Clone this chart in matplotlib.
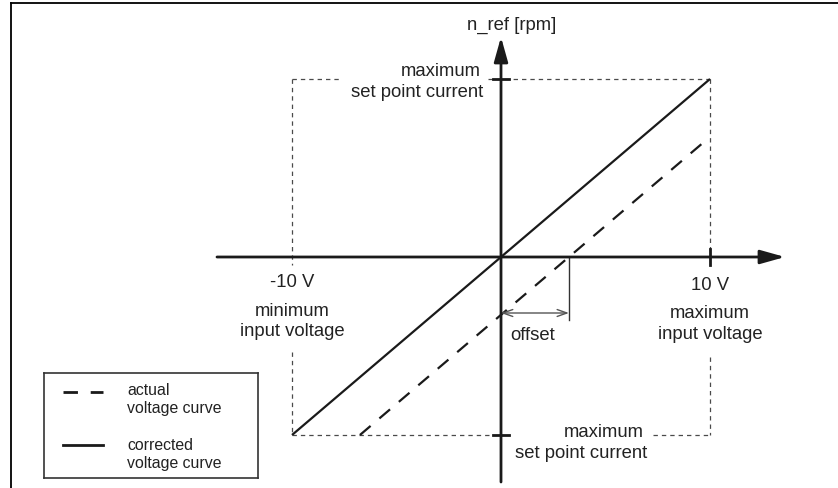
# offset correction sketch: set point n_ref vs. input voltage

import matplotlib
matplotlib.use('Agg')
from matplotlib import pyplot as plt
from matplotlib.lines import Line2D

plt.rcParams['font.family'] = ['Liberation Sans', 'DejaVu Sans']

# values (x in volts, y in units of max set point)
v_limits = [-10, 10]
n_limits = [-1, 1]
corrected_v = [-10, 10]
corrected_n = [-1, 1]
offset_v = 3.25
actual_v = [-6.75, 10]
actual_n = [-1, 0.675]
v_labels = ['-10 V', '10 V']
legend_labels = [['actual', 'voltage curve'], ['corrected', 'voltage curve']]

ink = '#1a1a1a'
txt = '#222222'
box = '#4a4a4a'

# pixel scale of the original drawing
px_v = 20.9     # px per volt
px_n = 178.0    # px per unit set point
x0, y0 = 501, 257

def X(px):
    return (px - x0) / px_v

def Y(py):
    return (y0 - py) / px_n

fig = plt.figure(figsize=(8.38, 4.88), dpi=100)
ax = fig.add_axes([0, 0, 1, 1])
ax.set_xlim(X(0), X(838))
ax.set_ylim(Y(488), Y(0))
ax.axis('off')

# outer frame (only top and left show)
fig.add_artist(Line2D([11/838, 1], [1-3/488, 1-3/488], color='black', lw=1.3))
fig.add_artist(Line2D([11/838, 11/838], [0, 1-3/488], color='black', lw=1.3))

# dashed limit box, broken where the labels sit
dk = dict(color=box, lw=0.9, dashes=(3.5, 3.2))
vl, vr = v_limits
nb, nt = n_limits
ax.plot([vl, X(342)], [nt, nt], **dk)
ax.plot([X(488), vr], [nt, nt], **dk)
ax.plot([vl, X(497)], [nb, nb], **dk)
ax.plot([X(653), vr], [nb, nb], **dk)
ax.plot([vl, vl], [nt, Y(265)], **dk)
ax.plot([vl, vl], [Y(352), nb], **dk)
ax.plot([vr, vr], [nt, Y(262)], **dk)
ax.plot([vr, vr], [Y(357), nb], **dk)

# axes with arrow heads
ax.annotate('', xy=(X(785), 0), xytext=(X(217), 0),
            arrowprops=dict(arrowstyle='-|>,head_length=1.5,head_width=0.42',
                            lw=2, color=ink, shrinkA=0, shrinkB=0))
ax.annotate('', xy=(0, Y(37)), xytext=(0, Y(482)),
            arrowprops=dict(arrowstyle='-|>,head_length=1.5,head_width=0.42',
                            lw=2, color=ink, shrinkA=0, shrinkB=0))

# ticks
ax.plot([-0.4, 0.4], [nt, nt], color=ink, lw=2)
ax.plot([-0.4, 0.4], [nb, nb], color=ink, lw=2)
ax.plot([vr, vr], [-0.045, 0.045], color=ink, lw=2)

# curves
ax.plot(corrected_v, corrected_n, color=ink, lw=1.6, solid_capstyle='butt')
ax.plot(actual_v, actual_n, color=ink, lw=1.6, dashes=(6.3, 5.2))

# offset marker
ax.plot([offset_v, offset_v], [0, Y(320)], color='#333333', lw=1)
ax.annotate('', xy=(offset_v, Y(313)), xytext=(0, Y(313)),
            arrowprops=dict(arrowstyle='<->,head_length=0.7,head_width=0.25',
                            lw=1, color='#555555', shrinkA=0, shrinkB=0))

fs = 13.3
tk = dict(fontsize=fs, color=txt, va='baseline')
ax.text(X(512), Y(30), 'n_ref [rpm]', ha='center', **tk)
ax.text(X(481), Y(76), 'maximum', ha='right', **tk)
ax.text(X(483), Y(97), 'set point current', ha='right', **tk)
ax.text(X(644), Y(437), 'maximum', ha='right', **tk)
ax.text(X(647), Y(458), 'set point current', ha='right', **tk)
ax.text(vl, Y(287), v_labels[0], ha='center', **tk)
ax.text(vl, Y(316), 'minimum', ha='center', **tk)
ax.text(vl, Y(336), 'input voltage', ha='center', **tk)
ax.text(vr, Y(290), v_labels[1], ha='center', **tk)
ax.text(vr, Y(318), 'maximum', ha='center', **tk)
ax.text(vr, Y(339), 'input voltage', ha='center', **tk)
ax.text(X(510), Y(340), 'offset', ha='left', **tk)

# legend box
lg = fig.add_axes([44/838, 1-478/488, 214/838, 105/488])
lg.set_xlim(0, 214)
lg.set_ylim(105, 0)
lg.set_xticks([])
lg.set_yticks([])
for s in lg.spines.values():
    s.set_color('#333333')
    s.set_linewidth(1.2)
lg.plot([19, 59], [19, 19], color=ink, lw=2, dashes=(5.2, 4.6))
lg.plot([19, 59], [72, 72], color=ink, lw=2)
for i, (a, b) in enumerate(legend_labels):
    base = 22 + i * 55
    lg.text(83, base, a, fontsize=11.4, color=txt, va='baseline')
    lg.text(83, base + 18, b, fontsize=11.4, color=txt, va='baseline')

fig.savefig('out.png', dpi=100)
